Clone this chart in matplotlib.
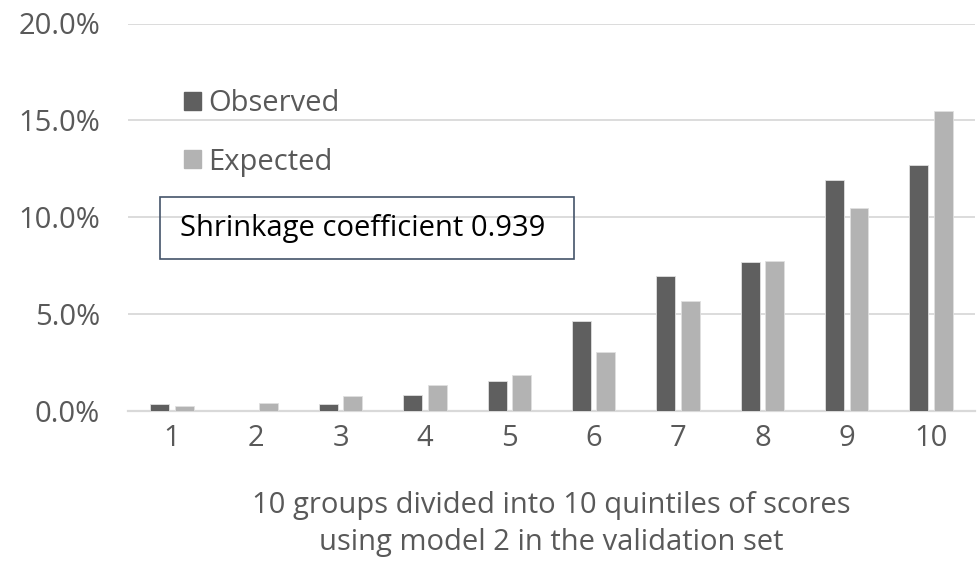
import numpy as np
import matplotlib
matplotlib.use("Agg")
import matplotlib.pyplot as plt
from matplotlib.patches import Patch, Rectangle
from matplotlib.ticker import FuncFormatter

groups = ["1", "2", "3", "4", "5", "6", "7", "8", "9", "10"]
observed = [0.36, 0.0, 0.36, 0.78, 1.53, 4.62, 6.95, 7.70, 11.9, 12.7]
expected = [0.21, 0.40, 0.75, 1.30, 1.82, 3.02, 5.67, 7.74, 10.47, 15.48]

plt.rcParams['font.family'] = ['Open Sans', 'DejaVu Sans']
grey_txt = "#595959"
fs = 21

fig = plt.figure(figsize=(9.79, 5.61), dpi=100)
ax = fig.add_axes([128/979, 1-410.5/561, 847/979, 387/561])

x = np.arange(len(groups))
w = 0.225
ax.bar(x - 0.145, observed, w, color="#5f5f5f", edgecolor="#e0e0e0", linewidth=0.6, zorder=3)
ax.bar(x + 0.145, expected, w, color="#b3b3b3", edgecolor="#e0e0e0", linewidth=0.6, zorder=3)

ax.set_ylim(0, 20)
ax.set_xlim(-0.52, 9.52)
ax.set_yticks([0, 5, 10, 15, 20])
ax.yaxis.set_major_formatter(FuncFormatter(lambda v, p: f"{v:.1f}%"))
ax.set_xticks(x)
ax.set_xticklabels(groups)
ax.grid(axis="y", color="#d9d9d9", linewidth=1.3, zorder=0)
for s in ["top", "right", "left"]:
    ax.spines[s].set_visible(False)
ax.spines["bottom"].set_color("#d9d9d9")
ax.spines["bottom"].set_linewidth(1.6)
ax.tick_params(axis="both", length=0, labelsize=fs, colors=grey_txt)
ax.tick_params(axis="y", pad=20)
ax.tick_params(axis="x", pad=10)

ax.set_xlabel("10 groups divided into 10 quintiles of scores\nusing model 2 in the validation set",
              fontsize=fs, color=grey_txt, labelpad=27, linespacing=1.38)

handles = [Patch(color="#5f5f5f", label="Observed"), Patch(color="#b3b3b3", label="Expected")]
ax.legend(handles=handles, loc="upper left", bbox_to_anchor=(0.052, 0.86), frameon=False,
          fontsize=fs, labelcolor=grey_txt, handlelength=0.6, handleheight=0.6,
          handletextpad=0.25, labelspacing=1.0, borderaxespad=0)

fig.patches.append(Rectangle((160/979, 1-259/561), 414/979, 62/561, transform=fig.transFigure,
                             fill=False, edgecolor="#44546a", linewidth=1.2))
fig.text(180/979, 1-228/561, "Shrinkage coefficient 0.939", fontsize=fs, color="black", va="center")

fig.savefig("out.png", dpi=100)
